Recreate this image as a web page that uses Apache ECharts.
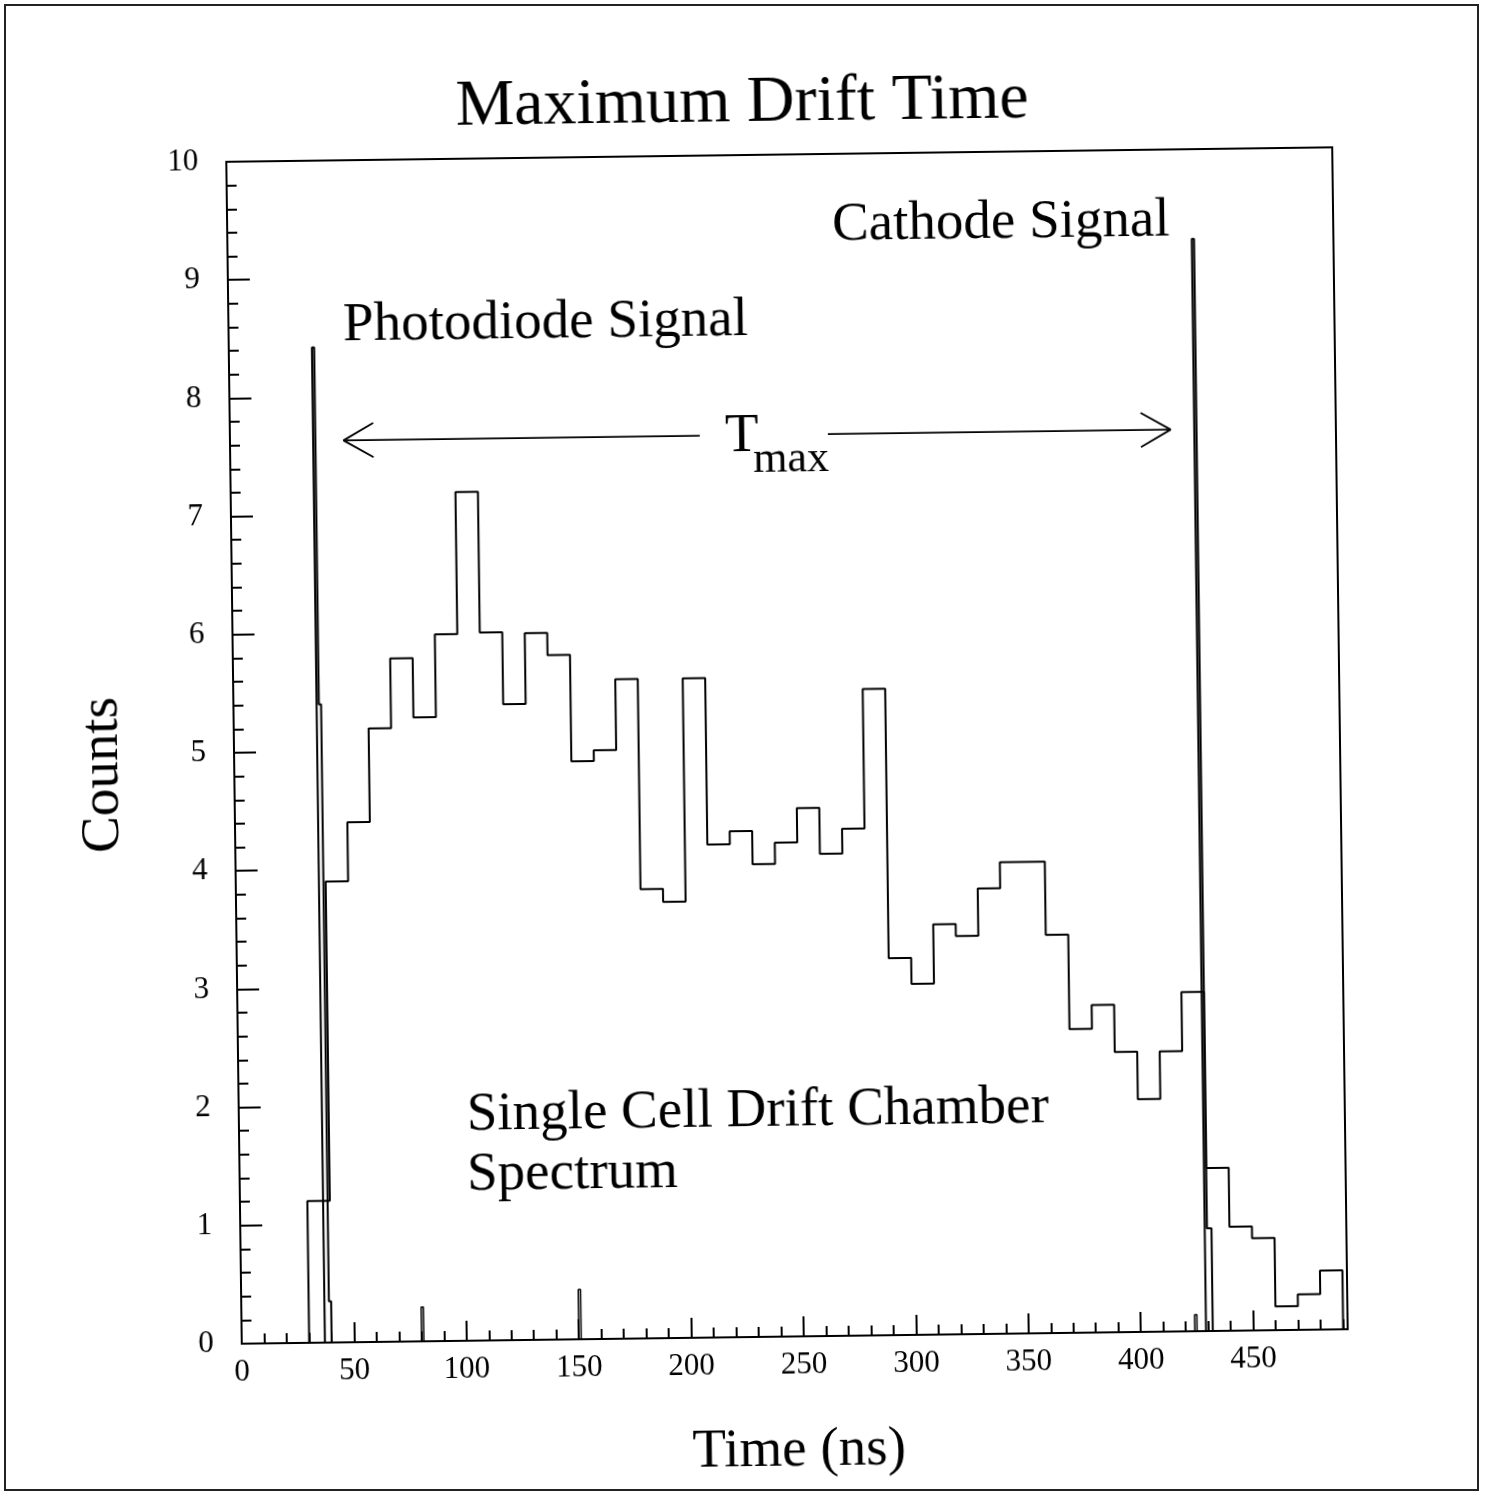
<!DOCTYPE html>
<html>
<head>
<meta charset="utf-8">
<title>Maximum Drift Time</title>
<script src="https://cdn.jsdelivr.net/npm/echarts@6/dist/echarts.min.js"></script>
<style>
  html, body { margin: 0; padding: 0; background: #fff; }
  #page { position: absolute; left: 4px; top: 4px; width: 1471px; height: 1483px; border: 2px solid #222; }
  /* the scanned original sits slightly tilted on the page */
  #main { position: absolute; left: 0; top: 0; width: 1500px; height: 1493px; transform: rotate(-0.75deg); }
</style>
</head>
<body>
<div id="page"></div>
<div id="main"></div>
<script>
var chart = echarts.init(document.getElementById('main'));
var SERIF = "'Liberation Serif', 'Times New Roman', serif";

// drift chamber spectrum, 10 ns bins starting at 30 ns
var binStart = 30;
var binWidth = 10;
var spectrumCounts = [
    1.2, 3.9, 4.4, 5.19, 5.78, 5.28, 5.98, 7.18, 5.99, 5.38,
    5.98, 5.79, 4.89, 4.98, 5.58, 3.8, 3.69, 5.58, 4.17, 4.28,
    4.0, 4.18, 4.47, 4.08, 4.29, 5.47, 3.19, 2.97, 3.47, 3.37,
    3.77, 3.99, 3.99, 3.37, 2.57, 2.77, 2.37, 1.97, 2.37, 2.87,
    1.38, 0.88, 0.78, 0.2, 0.3, 0.5
];

// narrow signal peaks: bin edges (ns) and contents
var photodiodeEdges = [37, 38, 39, 40];
var photodiodeCounts = [8.42, 5.4, 0.35];
var cathodeEdges = [429, 430, 432];
var cathodeCounts = [9.24, 0.87];
// small stray counts near the baseline
var noiseTimes = [80, 150, 424];
var noiseCounts = [0.29, 0.42, 0.14];

// axes
var xMax = 492;
var yMax = 10;

// T_max arrow (ns / counts)
var tmaxFrom = 50.5, tmaxTo = 418.5, tmaxLevel = 7.63;
var tmaxGapFrom = 209, tmaxGapTo = 266;

// histogram outline from edges + contents
function outline(edges, counts) {
    var pts = [[edges[0], 0]];
    for (var i = 0; i < counts.length; i++) {
        pts.push([edges[i], counts[i]]);
        pts.push([edges[i + 1], counts[i]]);
    }
    pts.push([edges[edges.length - 1], 0]);
    return pts;
}

var spectrumEdges = [];
for (var i = 0; i <= spectrumCounts.length; i++) {
    spectrumEdges.push(binStart + i * binWidth);
}

function lineSeries(data, width) {
    return {
        type: 'line',
        data: data,
        symbol: 'none',
        silent: true,
        animation: false,
        lineStyle: {color: '#000', width: width}
    };
}

var series = [];
series.push(lineSeries(outline(spectrumEdges, spectrumCounts), 2));
series.push(lineSeries(outline(photodiodeEdges, photodiodeCounts), 2));
series.push(lineSeries(outline(cathodeEdges, cathodeCounts), 2));
noiseTimes.forEach(function (t, k) {
    series.push(lineSeries(outline([t, t + 1], [noiseCounts[k]]), 1.5));
});

// T_max arrow shaft and open heads
var headLen = 13.3, headRise = 0.145;
series.push(lineSeries([[tmaxFrom, tmaxLevel], [tmaxGapFrom, tmaxLevel]], 1.8));
series.push(lineSeries([[tmaxGapTo, tmaxLevel], [tmaxTo, tmaxLevel]], 1.8));
series.push(lineSeries([[tmaxFrom + headLen, tmaxLevel + headRise], [tmaxFrom, tmaxLevel], [tmaxFrom + headLen, tmaxLevel - headRise]], 1.8));
series.push(lineSeries([[tmaxTo - headLen, tmaxLevel + headRise], [tmaxTo, tmaxLevel], [tmaxTo - headLen, tmaxLevel - headRise]], 1.8));

function txt(str, x, y, size, align, rot) {
    return {
        type: 'text',
        x: x,
        y: y,
        rotation: rot || 0,
        silent: true,
        style: {
            text: str,
            fill: '#000',
            font: size + 'px ' + SERIF,
            align: align || 'left',
            verticalAlign: 'middle'
        }
    };
}

var option = {
    backgroundColor: 'transparent',
    animation: false,
    grid: {
        left: 234, top: 155, width: 1106, height: 1182,
        show: true, borderColor: '#000', borderWidth: 2, backgroundColor: 'transparent'
    },
    xAxis: [{
        type: 'value', min: 0, max: xMax, interval: 50, position: 'bottom',
        axisLine: {show: true, onZero: false, lineStyle: {color: '#000', width: 2}},
        axisTick: {show: true, inside: true, length: 20, lineStyle: {color: '#000', width: 2}},
        axisLabel: {
            show: true, margin: 13, color: '#000', fontFamily: SERIF, fontSize: 31,
            showMaxLabel: false,
            formatter: function (v) { return v % 50 === 0 ? String(v) : ''; }
        },
        splitLine: {show: false}
    }, {
        type: 'value', min: 0, max: xMax, interval: 10, position: 'bottom',
        axisLine: {show: false},
        axisTick: {show: true, inside: true, length: 10, lineStyle: {color: '#000', width: 2}},
        axisLabel: {show: false},
        splitLine: {show: false}
    }],
    yAxis: {
        type: 'value', min: 0, max: yMax, interval: 1,
        axisLine: {show: true, onZero: false, lineStyle: {color: '#000', width: 2}},
        axisTick: {show: true, inside: true, length: 22, lineStyle: {color: '#000', width: 2}},
        minorTick: {show: true, splitNumber: 5, length: 10, lineStyle: {color: '#000', width: 2}},
        axisLabel: {margin: 28, color: '#000', fontFamily: SERIF, fontSize: 31},
        splitLine: {show: false},
        minorSplitLine: {show: false}
    },
    graphic: [
        txt('Maximum Drift Time', 750.5, 104, 66, 'center'),
        txt('Photodiode Signal', 348.6, 320.5, 55),
        txt('Cathode Signal', 838.9, 227, 55),
        txt('Single Cell Drift Chamber', 462, 1112, 55),
        txt('Spectrum', 461.5, 1172, 55),
        txt('T', 729, 436.5, 55),
        txt('max', 757, 460, 44),
        txt('Counts', 103, 766.5, 55, 'center', Math.PI / 2),
        txt('Time (ns)', 790, 1451.5, 55, 'center')
    ],
    series: series
};

chart.setOption(option);
</script>
</body>
</html>
